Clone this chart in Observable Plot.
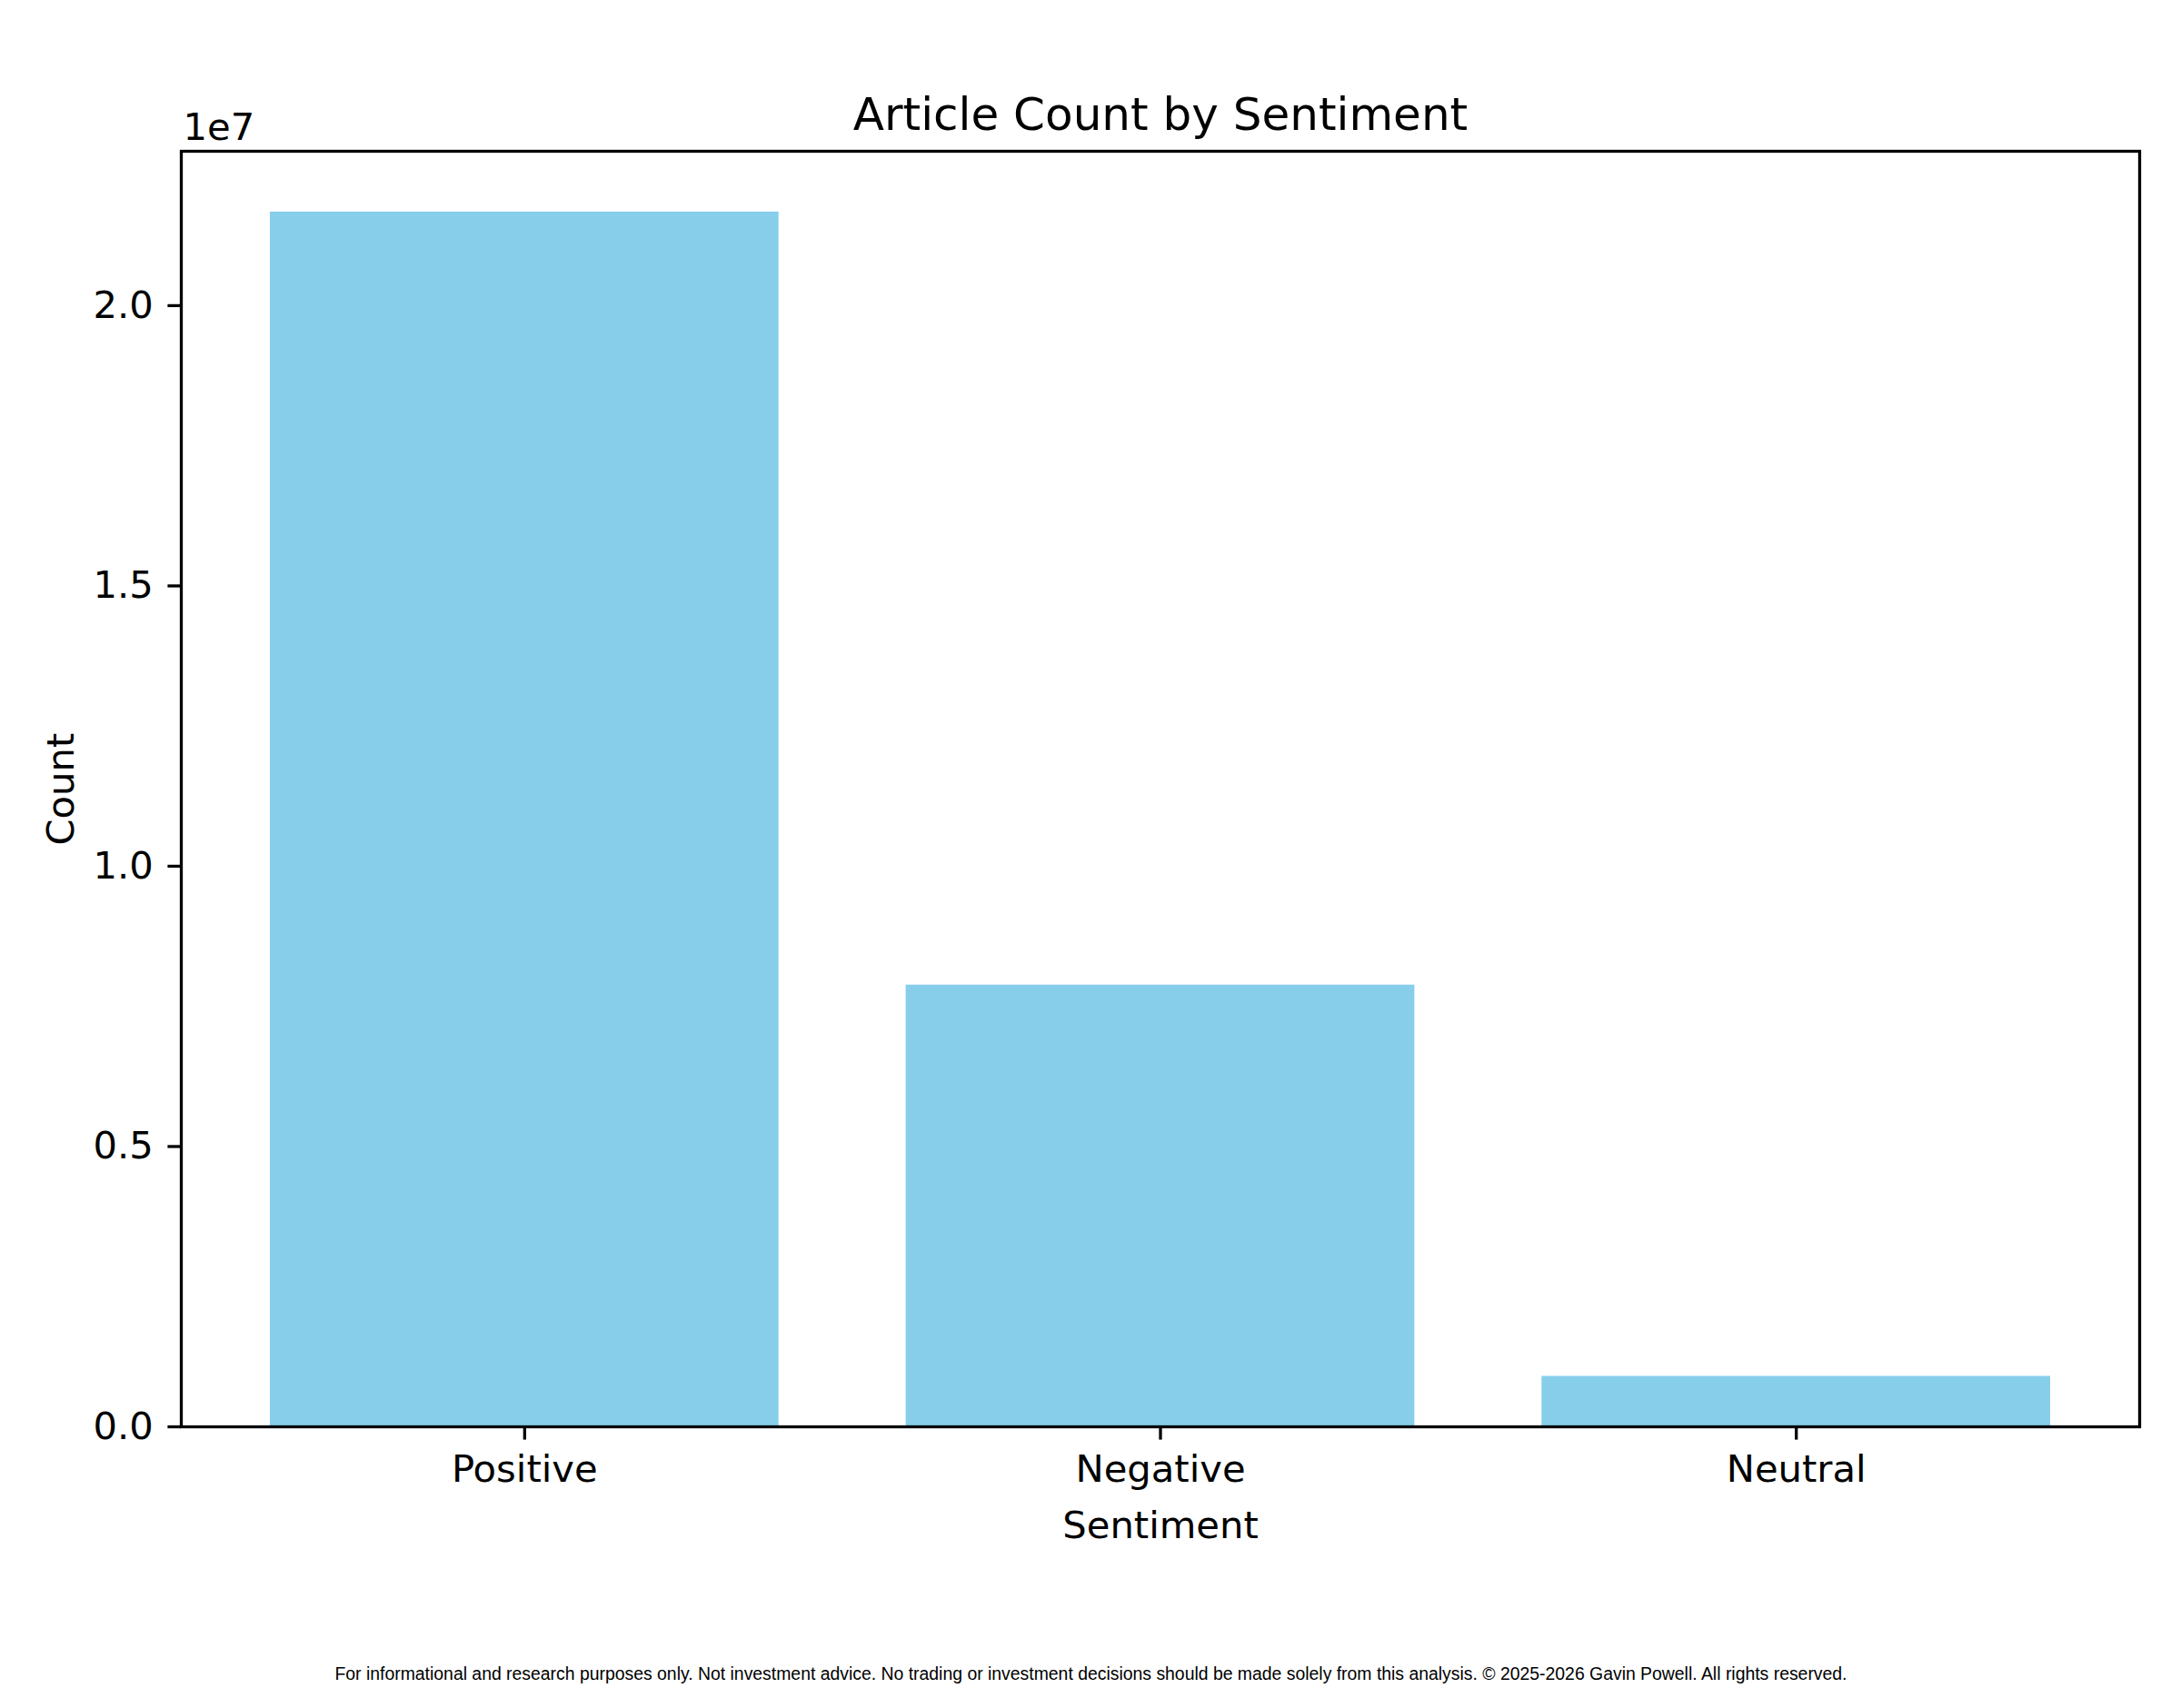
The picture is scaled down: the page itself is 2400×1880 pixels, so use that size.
<!DOCTYPE html>
<html>
<head>
<meta charset="utf-8">
<script src="https://cdn.jsdelivr.net/npm/d3@7"></script>
<script src="https://cdn.jsdelivr.net/npm/@observablehq/plot@0.6"></script>
<style>
  html, body { margin: 0; padding: 0; background: white; }
  #chart svg { display: block; }
</style>
</head>
<body>
<div id="chart"></div>
<script>
const categories = ["Positive", "Negative", "Neutral"];
const counts = [21670000, 7880000, 900000];
const yTicks = [0, 5e6, 1e7, 1.5e7, 2e7];
const titleText = "Article Count by Sentiment";
const xLabel = "Sentiment";
const yLabel = "Count";
const exponentLabel = "1e7";
const captionText = "For informational and research purposes only. Not investment advice. No trading or investment decisions should be made solely from this analysis. © 2025-2026 Gavin Powell. All rights reserved.";

const data = categories.map((c, i) => ({sentiment: c, count: counts[i]}));

const W = 2400, H = 1880;
const mL = 199, mR = 46, mT = 166, mB = 310;
const frameCenterX = mL + (W - mL - mR) / 2;

const chart = Plot.plot({
  width: W,
  height: H,
  marginLeft: mL,
  marginRight: mR,
  marginTop: mT,
  marginBottom: mB,
  style: {fontFamily: "DejaVu Sans", fontSize: "41.7px", background: "white", color: "black"},
  x: {domain: categories, paddingInner: 0.2, paddingOuter: 0.14, round: false, label: null},
  y: {domain: [0, counts[0] * 1.05], label: null},
  marks: [
    Plot.barY(data, {x: "sentiment", y: "count", fill: "#87CEEB"}),
    Plot.frame({stroke: "black", strokeWidth: 3.3}),
    Plot.axisX({tickSize: 14.6, tickPadding: 16, fontSize: 41.7, strokeWidth: 3.3, stroke: "black", fill: "black", label: null}),
    Plot.axisY({ticks: yTicks, tickFormat: d => (d / 1e7).toFixed(1), tickSize: 14.6, tickPadding: 16, fontSize: 41.7, strokeWidth: 3.3, stroke: "black", fill: "black", label: null}),
    Plot.text([titleText], {frameAnchor: "top", dy: -24, lineAnchor: "bottom", fontSize: 50, fill: "black"}),
    Plot.text([exponentLabel], {frameAnchor: "top-left", textAnchor: "start", dx: 2, dy: -13, lineAnchor: "bottom", fontSize: 41.7, fill: "black"}),
    Plot.text([xLabel], {frameAnchor: "bottom", dy: 122, lineAnchor: "bottom", fontSize: 41.7, fill: "black"}),
    Plot.text([yLabel], {frameAnchor: "left", dx: -119, dy: 62, rotate: -90, lineAnchor: "bottom", fontSize: 41.7, fill: "black"}),
    Plot.text([captionText], {frameAnchor: "bottom", dx: W / 2 - frameCenterX, dy: 278, lineAnchor: "bottom", fontSize: 19.4, fontFamily: "Liberation Sans", fill: "black"})
  ]
});
document.getElementById("chart").appendChild(chart);
</script>
</body>
</html>
